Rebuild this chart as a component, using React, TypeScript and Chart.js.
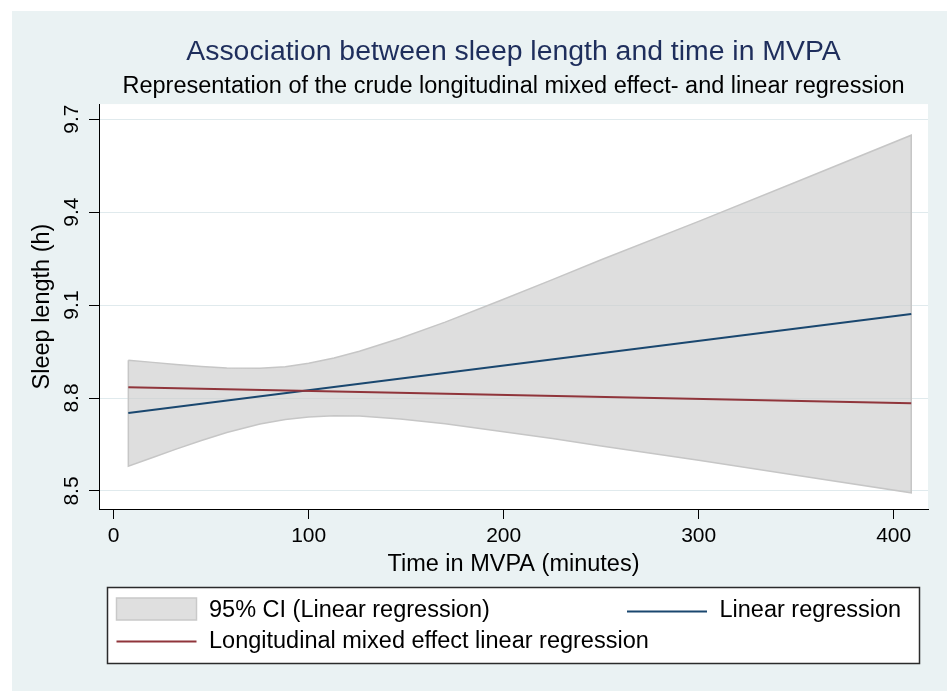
import React, { useEffect, useRef } from "react";
import { Chart, registerables } from "chart.js";

Chart.register(...registerables);

// ---- data ----
const titleText = "Association between sleep length and time in MVPA";
const subtitleText = "Representation of the crude longitudinal mixed effect- and linear regression";
const xTitle = "Time in MVPA (minutes)";
const yTitle = "Sleep length (h)";

const xTicks = [0, 100, 200, 300, 400];
const yTicks = [8.5, 8.8, 9.1, 9.4, 9.7];

// 95% CI band of the linear regression
const ciX = [7.5, 20, 32, 45, 58, 75, 88, 100, 113, 126, 147, 170, 198, 225, 250, 300, 350, 409];
const ciUpper = [8.922, 8.915, 8.908, 8.902, 8.897, 8.896, 8.901, 8.912, 8.929, 8.951, 8.993, 9.045, 9.114, 9.182, 9.246, 9.37, 9.497, 9.648];
const ciLower = [8.58, 8.608, 8.635, 8.663, 8.689, 8.716, 8.731, 8.739, 8.743, 8.742, 8.732, 8.717, 8.693, 8.669, 8.645, 8.599, 8.551, 8.494];

// fitted lines
const fitX = [7.5, 409];
const linearReg = [8.752, 9.071];
const mixedReg = [8.835, 8.783];

const legendLabels = [
  "95% CI (Linear regression)",
  "Linear regression",
  "Longitudinal mixed effect linear regression",
];

const NAVY = "#1a476f";
const MAROON = "#90353b";
const BG = "#eaf2f3";
const FONT = "'Liberation Sans', Arial, Helvetica, sans-serif";

export default function App() {
  const ref = useRef<HTMLCanvasElement | null>(null);

  useEffect(() => {
    const canvas = ref.current;
    if (!canvas) return;

    const bandPts = [
      ...ciX.map((x, i) => ({ x, y: ciUpper[i] })),
      ...ciX.map((x, i) => ({ x, y: ciLower[i] })).reverse(),
      { x: ciX[0], y: ciUpper[0] },
    ];

    const bgPlugin = {
      id: "bgPlugin",
      beforeDraw(chart: any) {
        const { ctx, chartArea } = chart;
        ctx.save();
        ctx.fillStyle = "#ffffff";
        ctx.fillRect(0, 0, chart.width, chart.height);
        ctx.fillStyle = BG;
        ctx.fillRect(12, 11, chart.width - 12, chart.height - 11);
        ctx.fillStyle = "#ffffff";
        ctx.fillRect(chartArea.left, chartArea.top, chartArea.right - chartArea.left, chartArea.bottom - chartArea.top);
        ctx.restore();
      },
    };

    const legendPlugin = {
      id: "stataLegend",
      afterDraw(chart: any) {
        const { ctx } = chart;
        ctx.save();
        // box
        ctx.fillStyle = "#ffffff";
        ctx.fillRect(107.5, 587.5, 812, 76);
        ctx.strokeStyle = "#2b2b2b";
        ctx.lineWidth = 1.5;
        ctx.strokeRect(107.5, 587.5, 812, 76);

        // CI swatch
        ctx.fillStyle = "#dfdfdf";
        ctx.fillRect(116.5, 598, 80, 22);
        ctx.strokeStyle = "#c9c9c9";
        ctx.lineWidth = 1.5;
        ctx.strokeRect(116.5, 598, 80, 22);

        // linear regression line swatch
        ctx.strokeStyle = NAVY;
        ctx.lineWidth = 2;
        ctx.beginPath();
        ctx.moveTo(627, 611.5);
        ctx.lineTo(707, 611.5);
        ctx.stroke();

        // mixed line swatch
        ctx.strokeStyle = MAROON;
        ctx.beginPath();
        ctx.moveTo(116.5, 641.5);
        ctx.lineTo(196.5, 641.5);
        ctx.stroke();

        ctx.fillStyle = "#000000";
        ctx.font = `23.5px ${FONT}`;
        ctx.textBaseline = "middle";
        ctx.textAlign = "left";
        ctx.fillText(legendLabels[0], 209, 611);
        ctx.fillText(legendLabels[1], 719.5, 611);
        ctx.fillText(legendLabels[2], 209, 642);
        ctx.restore();
      },
    };

    const chart = new Chart(canvas, {
      type: "line",
      data: {
        datasets: [
          {
            label: legendLabels[0],
            data: bandPts,
            borderColor: "#c6c6c6",
            borderWidth: 1.5,
            backgroundColor: "rgba(205,205,205,0.65)",
            fill: "shape",
            pointRadius: 0,
            tension: 0,
            order: 3,
          },
          {
            label: legendLabels[1],
            data: fitX.map((x, i) => ({ x, y: linearReg[i] })),
            borderColor: NAVY,
            borderWidth: 2,
            pointRadius: 0,
            fill: false,
            order: 2,
          },
          {
            label: legendLabels[2],
            data: fitX.map((x, i) => ({ x, y: mixedReg[i] })),
            borderColor: MAROON,
            borderWidth: 2,
            pointRadius: 0,
            fill: false,
            order: 1,
          },
        ],
      },
      options: {
        animation: false,
        responsive: false,
        devicePixelRatio: 1,
        layout: { padding: { top: 0, left: 0, right: 19, bottom: 112 } },
        plugins: {
          legend: { display: false },
          tooltip: { enabled: false },
          title: {
            display: true,
            fullSize: false,
            text: titleText,
            color: "#1e2e5c",
            font: { family: FONT, size: 28.4, weight: "normal", lineHeight: 1.2 },
            padding: { top: 34.8, bottom: 0 },
          },
          subtitle: {
            display: true,
            fullSize: false,
            text: subtitleText,
            color: "#000000",
            font: { family: FONT, size: 23.5, weight: "normal", lineHeight: 1.2 },
            padding: { top: 4, bottom: 3 },
          },
        },
        scales: {
          x: {
            type: "linear",
            min: -7.54,
            max: 417.6,
            afterBuildTicks: (scale: any) => {
              scale.ticks = xTicks.map((v) => ({ value: v }));
            },
            afterFit: (scale: any) => {
              scale.height = 70;
            },
            ticks: {
              color: "#000000",
              font: { family: FONT, size: 21 },
              padding: 5,
              maxRotation: 0,
              autoSkip: false,
              callback: (v: any) => String(v),
            },
            grid: {
              drawOnChartArea: false,
              drawTicks: true,
              tickLength: 10,
              tickColor: "#000000",
              tickWidth: 1,
            },
            border: { display: true, color: "#000000", width: 1 },
            title: {
              display: true,
              text: xTitle,
              color: "#000000",
              font: { family: FONT, size: 23.5, lineHeight: 1.2 },
              padding: { top: 0, bottom: 0 },
            },
          },
          y: {
            type: "linear",
            min: 8.4419,
            max: 9.7484,
            afterBuildTicks: (scale: any) => {
              scale.ticks = yTicks.map((v) => ({ value: v }));
            },
            afterFit: (scale: any) => {
              scale.width = 99;
            },
            ticks: {
              color: "#000000",
              font: { family: FONT, size: 21 },
              padding: 2,
              minRotation: 90,
              maxRotation: 90,
              crossAlign: "center",
              autoSkip: false,
              callback: (v: any) => Number(v).toFixed(1),
            },
            grid: {
              drawOnChartArea: true,
              color: "#e0eaed",
              lineWidth: 1,
              drawTicks: true,
              tickLength: 10,
              tickColor: "#000000",
              tickWidth: 1,
            },
            border: { display: true, color: "#000000", width: 1 },
            title: {
              display: true,
              text: yTitle,
              color: "#000000",
              font: { family: FONT, size: 23.5, lineHeight: 1.2 },
              padding: { top: 28, bottom: 0 },
            },
          },
        },
      },
      plugins: [bgPlugin, legendPlugin],
    } as any);

    return () => chart.destroy();
  }, []);

  return (
    <div style={{ position: "absolute", left: 0, top: 0, width: 947, height: 691 }}>
      <canvas ref={ref} width={947} height={691} style={{ width: 947, height: 691, display: "block" }} />
    </div>
  );
}
